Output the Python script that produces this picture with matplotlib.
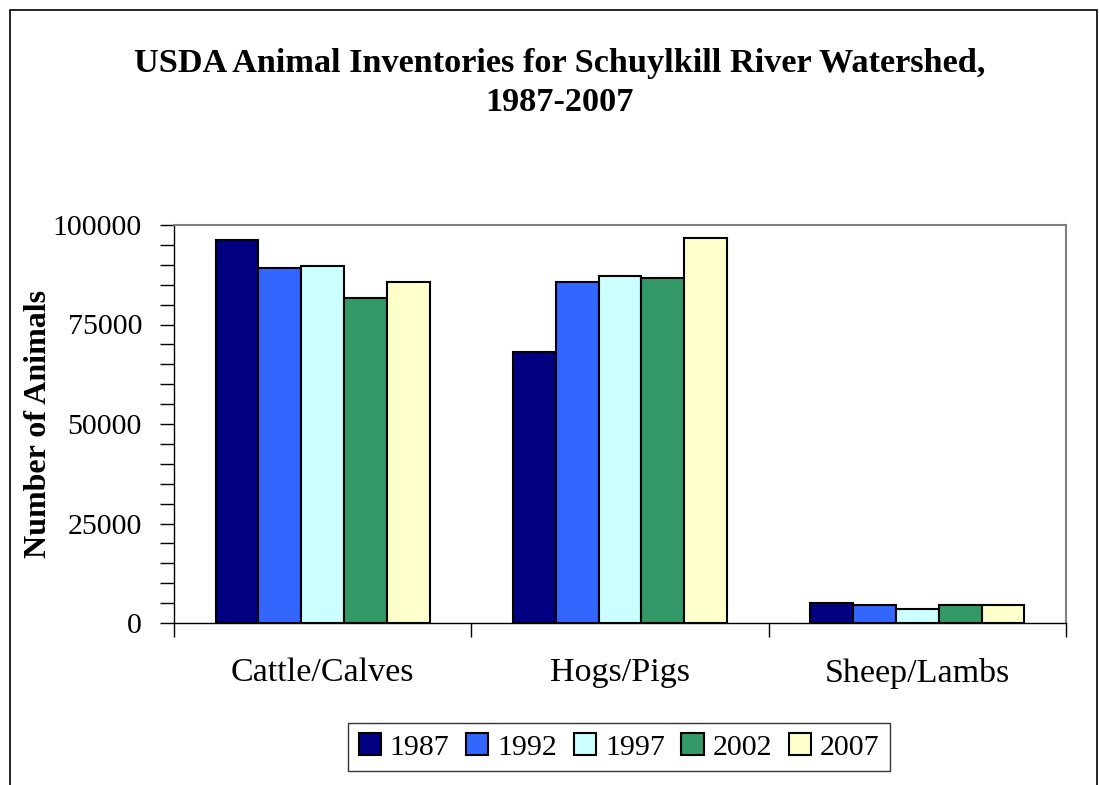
import numpy as np
import matplotlib
matplotlib.use("Agg")
from matplotlib import pyplot as plt
from matplotlib.patches import Rectangle
from matplotlib.ticker import MultipleLocator, FixedLocator

# data
categories = ["Cattle/Calves", "Hogs/Pigs", "Sheep/Lambs"]
years = ["1987", "1992", "1997", "2002", "2007"]
inv_1987 = [96200, 68200, 5000]
inv_1992 = [89300, 85800, 4500]
inv_1997 = [89800, 87200, 3500]
inv_2002 = [81700, 86700, 4600]
inv_2007 = [85800, 96800, 4500]
series = [inv_1987, inv_1992, inv_1997, inv_2002, inv_2007]
colors = ["#000080", "#3366FF", "#CCFFFF", "#339966", "#FFFFCC"]

plt.rcParams['font.family'] = ['Liberation Serif', 'DejaVu Serif']

W, H = 1099, 785
fig = plt.figure(figsize=(W/100, H/100), dpi=100)

# outer chart border
fig.patches.append(Rectangle((10/W, -0.05), 1087/W, 1.05 - 10/H, transform=fig.transFigure,
                             fill=False, edgecolor="black", linewidth=1.2))

ax = fig.add_axes([174/W, 1 - 623/H, (1066-174)/W, (623-225)/H])

x = np.arange(len(categories))
bw = 0.144
for i, (vals, c, yr) in enumerate(zip(series, colors, years)):
    ax.bar(x + (i - 2) * bw, vals, width=bw, color=c, edgecolor="black",
           linewidth=1.5, label=yr)

ax.set_xlim(-0.5, 2.5)
ax.set_ylim(0, 100000)
ax.yaxis.set_major_locator(MultipleLocator(25000))
ax.yaxis.set_minor_locator(MultipleLocator(5000))
ax.set_xticks(np.arange(-0.5, 3, 1))
ax.set_xticklabels([])
ax.xaxis.set_minor_locator(FixedLocator(x))
ax.set_xticklabels(categories, minor=True)
ax.tick_params(axis="x", which="minor", length=0, pad=25, labelsize=24.5)
ax.tick_params(axis="x", which="major", length=10, width=1, direction="out")
ax.tick_params(axis="y", which="both", length=10, width=1, direction="out", labelsize=21.5, pad=13)

for s in ["top", "right"]:
    ax.spines[s].set_color("#808080")
    ax.spines[s].set_linewidth(1.5)
for s in ["left", "bottom"]:
    ax.spines[s].set_color("black")
    ax.spines[s].set_linewidth(1)

ax.set_ylabel("Number of Animals", fontsize=23, fontweight="bold")
ax.yaxis.set_label_coords((53 - 174) / (1066 - 174), 0.5)

fig.text(560/W, 1 - 83/H, "USDA Animal Inventories for Schuylkill River Watershed,\n1987-2007",
         ha="center", va="center", fontsize=24.7, fontweight="bold", linespacing=1.3)

leg = ax.legend(loc="center", bbox_to_anchor=(619/W, 1 - 747/H), bbox_transform=fig.transFigure,
                ncol=5, fontsize=21.5, frameon=True, fancybox=False, edgecolor="black",
                handlelength=0.75, handleheight=0.75, handletextpad=0.3, columnspacing=0.55,
                borderpad=0.35, borderaxespad=0)
leg.get_frame().set_linewidth(1)

fig.savefig("out.png", dpi=100)
